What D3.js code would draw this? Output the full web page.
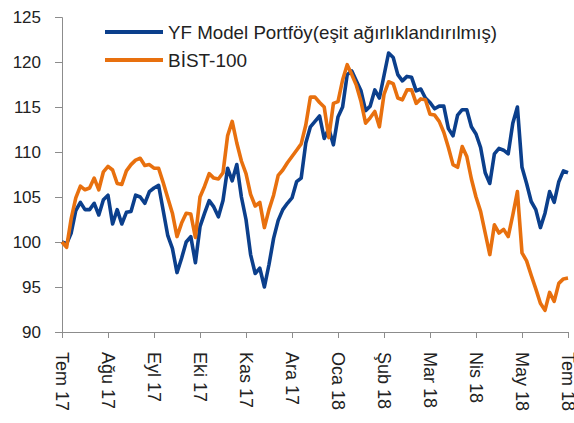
<!DOCTYPE html>
<html>
<head>
<meta charset="utf-8">
<script src="https://cdn.jsdelivr.net/npm/d3@7"></script>
<style>
  body { margin: 0; background: #fff; }
  svg { display: block; }
  text { font-family: Arial, "Liberation Sans", sans-serif; fill: #222; }
</style>
</head>
<body>
<script>
// series names
var seriesNames = ["YF Model Portföy(eşit ağırlıklandırılmış)", "BİST-100"];

// x categories: month labels shown every 10 points
var monthLabels = ["Tem 17", "Ağu 17", "Eyl 17", "Eki 17", "Kas 17", "Ara 17",
                   "Oca 18", "Şub 18", "Mar 18", "Nis 18", "May 18", "Tem 18"];

var yTicks = [90, 95, 100, 105, 110, 115, 120, 125];

// YF model portfolio (index, start = 100)
var yfValues = [
  100, 99.8, 101, 103.5, 104.4, 103.6, 103.6, 104.3, 103.0, 104.7,
  105.2, 102.0, 103.6, 102.0, 103.3, 103.4, 105.2, 105.0, 104.3, 105.6,
  106.0, 106.3, 103.5, 100.7, 99.3, 96.6, 98.2, 100.0, 100.6, 97.7,
  101.7, 103.2, 104.6, 103.9, 102.8, 104.6, 108.2, 106.8, 108.6, 105.0,
  102.5, 98.6, 96.5, 97.1, 95.0, 97.5, 100.4, 102.4, 103.6, 104.3,
  104.9, 106.7, 107.1, 111.0, 112.8, 113.4, 114.0, 111.5, 112.6, 110.8,
  113.9, 115.0, 118.6, 119.0, 117.9, 116.8, 114.6, 115.1, 116.9, 116.0,
  118.5, 121.0, 120.5, 118.6, 117.9, 118.4, 118.3, 116.8, 117.0, 116.0,
  115.5, 114.8, 115.1, 115.1, 112.6, 111.8, 114.1, 114.7, 114.7, 112.8,
  112.0, 110.5, 107.7, 106.5, 109.8, 110.4, 110.2, 109.8, 113.2, 115.0,
  108.3, 106.5, 104.5, 103.6, 101.6, 103.2, 105.6, 104.4, 106.7, 107.9,
  107.7
];

// BIST-100 (index, start = 100)
var bistValues = [
  100, 99.4, 102.6, 104.9, 106.2, 105.8, 106.0, 107.1, 105.8, 107.8,
  108.4, 108.0, 106.5, 106.4, 107.9, 108.6, 109.1, 109.3, 108.5, 108.6,
  108.2, 108.2, 106.6, 104.9, 103.2, 100.6, 102.1, 103.2, 103.1, 100.5,
  105.0, 106.2, 107.6, 107.1, 107.0, 107.7, 111.8, 113.4, 111.0, 109.0,
  107.6, 105.3, 104.0, 104.4, 101.6, 103.6, 105.2, 107.4, 108.0, 108.8,
  109.5, 110.2, 110.9, 113.0, 116.1, 116.1, 115.5, 115.0, 111.6, 115.4,
  115.6, 118.0, 119.7, 118.6, 117.4, 115.6, 113.2, 113.8, 114.5, 112.8,
  116.4, 117.8, 117.6, 116.0, 115.8, 116.9, 116.9, 115.4, 115.9, 115.8,
  114.2, 114.1, 113.4, 112.2, 110.5, 108.6, 108.3, 110.6, 109.5, 107.0,
  105.0, 103.4, 101.0, 98.6, 101.9, 101.0, 101.4, 100.6, 103.0, 105.6,
  98.8, 97.9, 96.3, 94.8, 93.2, 92.4, 94.4, 93.4, 95.4, 95.9,
  96.0
];

var colors = ["#0b3f8c", "#e8700e"];

var width = 574, height = 423;
var margin = {left: 62, right: 6, top: 17, bottom: 91};

var svg = d3.select("body").append("svg")
  .attr("width", width)
  .attr("height", height);

var x = d3.scaleLinear()
  .domain([0, yfValues.length - 1])
  .range([margin.left, width - margin.right]);

var y = d3.scaleLinear()
  .domain([90, 125])
  .range([height - margin.bottom, margin.top]);

// y axis
var yAxis = svg.append("g")
  .attr("transform", "translate(" + margin.left + ",0)")
  .call(d3.axisLeft(y).tickValues(yTicks).tickSize(7).tickPadding(14));
yAxis.selectAll("text").style("font-size", "17px");

// x axis
var tickIdx = monthLabels.map(function(d, i) { return i * 10; });
var xAxis = svg.append("g")
  .attr("transform", "translate(0," + y(90) + ")")
  .call(d3.axisBottom(x).tickValues(tickIdx).tickSize(6)
        .tickFormat(function(d, i) { return monthLabels[i]; }));
xAxis.selectAll("text")
  .style("font-size", "18px")
  .attr("text-anchor", "start")
  .attr("dy", "0.35em")
  .attr("y", 0)
  .attr("transform", "translate(0,20) rotate(90)");

svg.selectAll(".domain, .tick line").attr("stroke", "#8c8c8c");

// lines
var line = d3.line()
  .x(function(d, i) { return x(i); })
  .y(function(d) { return y(d); });

[yfValues, bistValues].forEach(function(vals, k) {
  svg.append("path")
    .datum(vals)
    .attr("d", line)
    .attr("fill", "none")
    .attr("stroke", colors[k])
    .attr("stroke-width", 3.6)
    .attr("stroke-linejoin", "round");
});

// legend
var legend = svg.append("g");
var textLens = [329, 79];
seriesNames.forEach(function(name, k) {
  var ly = 32 + k * 28;
  legend.append("line")
    .attr("x1", 105).attr("x2", 163)
    .attr("y1", ly).attr("y2", ly)
    .attr("stroke", colors[k])
    .attr("stroke-width", 4);
  legend.append("text")
    .attr("x", 168).attr("y", ly + 7)
    .attr("textLength", textLens[k])
    .attr("lengthAdjust", "spacingAndGlyphs")
    .style("font-size", "19px")
    .text(name);
});
</script>
</body>
</html>
